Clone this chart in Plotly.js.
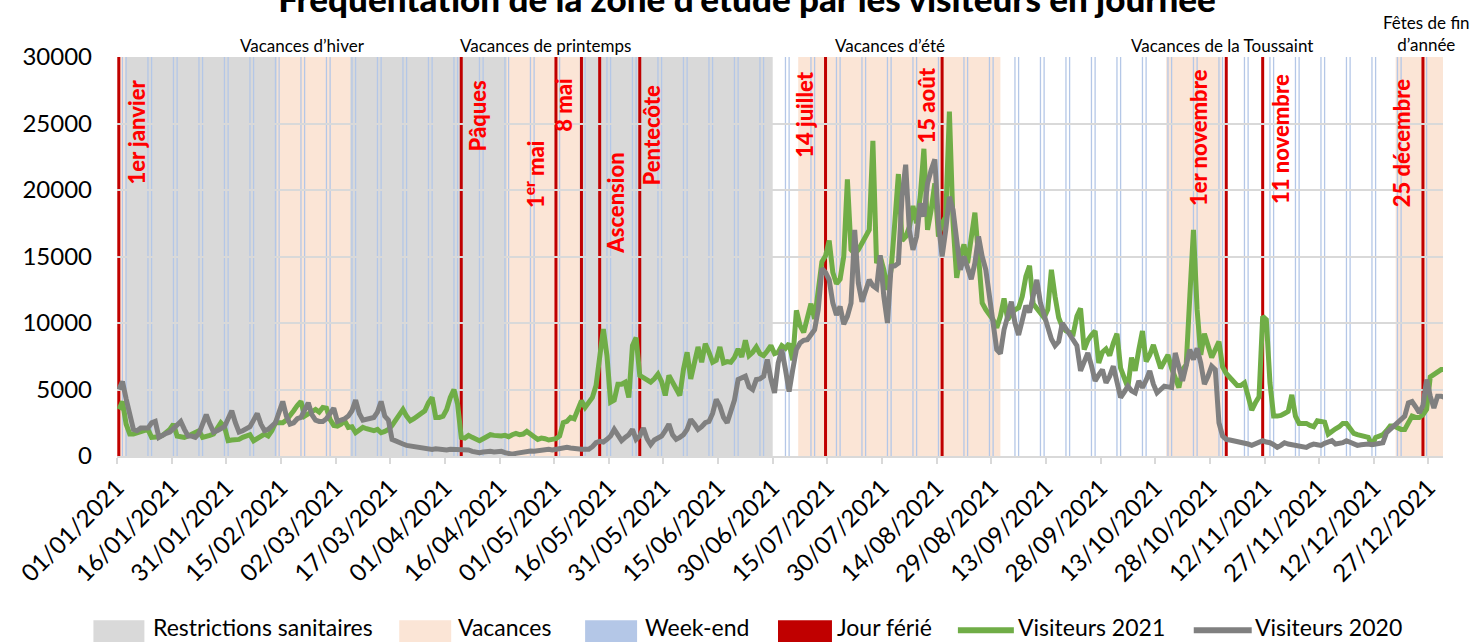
<!DOCTYPE html>
<html>
<head>
<meta charset="utf-8">
<script src="https://cdn.plot.ly/plotly-3.0.1.min.js"></script>
<style>html,body{margin:0;padding:0;background:#fff;}#chart{width:1475px;height:642px;}</style>
</head>
<body>
<div id="chart"></div>
<script>
// ---------------- DATA ----------------
const visitors2021 = [
3500,4100,2400,1650,1650,1750,1800,1900,2000,1400,
1400,1450,1550,1750,2000,2400,1500,1450,1400,1500,
1650,1750,1900,1400,1450,1550,1650,2000,2500,2200,
1150,1200,1250,1250,1400,1500,1600,1150,1300,1500,
1650,1500,1900,2500,2500,2500,2700,3000,3400,3800,
4100,3000,3200,3400,3500,3300,3650,3600,2750,2300,
2250,2400,2650,2150,2200,1750,1900,2150,2050,2000,
1900,2000,1750,1850,2000,2300,2750,3100,3500,3000,
2650,2800,3000,3100,3400,4000,4400,2900,2900,3000,
3500,4400,5000,3900,1400,1350,1550,1400,1300,1150,
1300,1400,1600,1550,1500,1500,1550,1450,1600,1700,
1600,1650,1850,1600,1450,1250,1350,1300,1200,1250,
1300,1500,2500,2600,2900,2800,3550,4150,3650,4050,
4400,5300,7500,9550,7550,4050,4200,5400,5400,5550,
4400,8300,8900,6050,5900,5700,5550,5800,6150,5600,
4550,6050,5600,5000,4550,6500,7800,5800,7000,8200,
7050,8450,7800,7050,7200,8200,7000,7100,7050,7400,
8050,7450,8700,7550,7800,8200,7700,7550,7900,8300,
7700,7800,8300,8100,8450,7200,10950,9800,9300,10500,
11450,10300,12500,14600,15050,16200,13800,12950,13300,15000,
20800,15500,15200,15500,16000,16500,17000,23700,14500,15000,
14000,12500,14000,17500,21200,16200,16500,17200,18800,17500,
19500,23100,17000,18500,20500,16500,17500,18000,25900,17500,
13400,15000,15900,14500,16500,18300,15000,11500,11000,10600,
10250,9650,10500,11850,10250,10700,11000,11150,12000,13500,
14300,11450,11100,10800,10400,11000,14000,12000,10400,9700,
9400,9300,9200,10500,11100,8000,8700,9100,9400,7000,
7800,8050,7550,8500,9200,6600,5900,5150,7400,6400,
8000,9400,7100,7600,8350,7400,6600,7100,7600,6600,
5800,5150,6500,6850,12000,17000,11000,7600,9200,8300,
7400,8000,8600,6700,6200,5900,5650,5300,5300,5500,
4500,3450,4000,4450,10500,10250,5500,3000,3000,3050,
3200,3350,4600,3000,2450,2450,2450,2300,2200,2650,
2600,2550,1650,1900,2050,2200,2450,2450,2100,1700,
1600,1500,1450,1400,800,1400,1500,1600,1900,2250,
2250,2100,2000,2000,2600,3000,2900,2900,3100,3500,
5950,6100,6350,6500,6500
];
const visitors2020 = [
5000,5600,4300,3000,2000,1900,2100,2100,2100,2500,
2600,1400,1600,1700,1800,2100,2300,2600,2000,1500,
1500,1400,1700,2300,3100,2400,1800,1900,2000,2200,
2800,3400,2500,1800,1900,2000,2200,2700,3200,2400,
1900,2000,2200,2500,3300,4100,3000,2400,2500,2800,
2900,3400,4000,3100,2700,2600,2600,2800,3200,3600,
2600,2700,2800,3000,3400,4200,3200,2700,2800,2850,
2900,3300,4100,3000,2700,1250,1100,1000,900,800,
750,750,650,600,550,500,500,550,500,500,
450,500,500,450,450,500,450,350,300,250,
300,350,350,300,370,350,250,200,130,200,
250,300,350,370,350,400,450,450,500,450,
500,550,600,650,600,550,550,500,500,500,
700,1000,1100,1050,1250,1500,2000,1600,1150,1400,
1600,2000,1250,1500,2100,1300,850,1200,1350,1500,
1900,2400,1600,1250,1400,1600,2000,2750,2400,2000,
2200,2500,2600,3200,4250,3750,2900,2500,3350,4200,
5750,5900,6000,5200,5000,5750,5800,6000,7250,5800,
4750,7000,8000,6500,4850,6500,8000,8500,8700,8750,
9200,9500,11000,14100,13800,13250,11500,10600,11250,9900,
10500,11500,17000,13000,11600,12300,13250,12800,12600,15100,
12000,10000,14250,14300,14500,19500,21900,17000,15500,16500,
19000,18000,20500,21500,22300,17500,15000,17000,19500,18500,
16000,14000,15000,14000,13300,14500,16500,15000,14000,12000,
10000,8000,7700,9500,10500,11600,10000,9100,10200,11300,
10800,12000,13250,11500,10600,9500,8800,8300,8600,10000,
9600,9200,8800,8300,6400,7000,7750,6800,5650,6100,
6500,5500,6000,6750,5500,4400,4800,5250,4900,4750,
5650,5150,5700,6400,5400,4750,5000,5250,5200,5150,
7750,6500,5650,6800,8000,7250,8100,7000,5400,6000,
6750,6500,2500,1500,1250,1200,1150,1100,1050,1000,
900,800,900,1100,1150,1050,1000,850,650,800,
1000,900,850,800,750,700,650,800,900,850,
800,950,1100,1150,900,950,1000,1150,1000,850,
800,850,900,900,850,900,950,1000,1750,2000,
2250,2400,2700,3000,4000,4100,3700,3250,3800,5750,
4500,3600,4500,4500,4400
];
// Periods [start, end]
const restrictionPeriods = [["2021-01-03","2021-06-30"]];
const vacationPeriods = [
  ["2021-01-01","2021-01-03"],
  ["2021-02-14","2021-03-06"],
  ["2021-04-18","2021-05-08"],
  ["2021-07-07","2021-08-31 12:00"],
  ["2021-10-16","2021-10-31 06:00"],
  ["2021-12-18","2021-12-31"]
];
const vacationNames = ["Vacances d’hiver","Vacances de printemps","Vacances d’été","Vacances de la Toussaint","Fêtes de fin<br>d’année"];
const holidayDates = ["2021-01-01","2021-04-05","2021-05-01","2021-05-08","2021-05-13","2021-05-24","2021-07-14","2021-08-15","2021-11-01","2021-11-11","2021-12-25"];
const holidayLabels = ["1er janvier","Pâques","1<sup>er</sup> mai","8 mai","Ascension","Pentecôte","14 juillet","15 août","1er novembre","11 novembre","25 décembre"];
const legendLabels = ["Restrictions sanitaires","Vacances","Week-end","Jour férié","Visiteurs 2021","Visiteurs 2020"];
const yTicks = [0,5000,10000,15000,20000,25000,30000];

// ---------------- LAYOUT HELPERS ----------------
const FONT = 'Lato, "Open Sans", sans-serif';
const L = 116.6, R = 1443.4, T = 56.7, B = 456.5;
const W = R - L, H = B - T;
const px = p => (p - L) / W;      // pixel x -> paper
const py = p => (B - p) / H;      // pixel y -> paper

const DAY = 86400000;
const start = Date.UTC(2021,0,1);
const iso = ms => new Date(ms).toISOString().slice(0,19).replace('T',' ');
const dates = visitors2021.map((_, i) => iso(start + i*DAY + DAY/2));
const noon = d => d + " 12:00";

// weekends of calendar 2021
const weekendDays = [];
for (let i = 0; i < 365; i++) {
  const wd = new Date(start + i*DAY).getUTCDay();
  if (wd === 0 || wd === 6) weekendDays.push(iso(start + i*DAY + DAY/2));
}

const COL = {restr:'#d9d9d9', vac:'#fbe5d6', we:'#b4c7e7', ferie:'#c00000', g21:'#70ad47', g20:'#808080'};

const shapes = [];
restrictionPeriods.forEach(p => shapes.push({type:'rect', xref:'x', yref:'paper', x0:p[0], x1:p[1], y0:0, y1:1, fillcolor:COL.restr, line:{width:0}, layer:'between'}));
vacationPeriods.forEach(p => shapes.push({type:'rect', xref:'x', yref:'paper', x0:p[0], x1:p[1], y0:0, y1:1, fillcolor:COL.vac, line:{width:0}, layer:'between'}));
weekendDays.forEach(d => shapes.push({type:'line', xref:'x', yref:'paper', x0:d, x1:d, y0:0, y1:1, line:{color:COL.we, width:1.3}, layer:'between'}));
holidayDates.forEach(d => shapes.push({type:'line', xref:'x', yref:'paper', x0:noon(d), x1:noon(d), y0:0, y1:1, line:{color:COL.ferie, width:3}, layer:'between'}));

// label placement (pixel offsets / tops) for holiday labels
const holidayLabelShift = [18, 16, -22, -18, 15, 12, -21, -16, -27, 18, -22];
const holidayLabelTop   = [77, 77, 138, 75, 150, 82, 70, 65, 67, 72, 77];
const vacationNamePos   = [[302,45],[545,45],[890,45],[1222,45],[1427,33]];

const annotations = [];
holidayDates.forEach((d, i) => annotations.push({
  xref:'x', yref:'paper', x:noon(d), y:py(holidayLabelTop[i]), xshift:holidayLabelShift[i],
  xanchor:'center', yanchor:'top', textangle:-90, showarrow:false,
  text:holidayLabels[i], font:{family:FONT, size:22, weight:900, color:'#ff0000'}
}));
vacationNames.forEach((n, i) => annotations.push({
  xref:'paper', yref:'paper', x:px(vacationNamePos[i][0]), y:py(vacationNamePos[i][1]),
  xanchor:'center', yanchor:'middle', showarrow:false, text:n,
  font:{family:FONT, size:17, color:'#000'}
}));

// manual legend
const legY = 628;
const legItems = [
  {kind:'box', color:COL.restr, x0:93, x1:144, tx:151},
  {kind:'box', color:COL.vac, x0:399, x1:451, tx:456},
  {kind:'box', color:COL.we, x0:585, x1:637, tx:643},
  {kind:'box', color:COL.ferie, x0:778, x1:832, tx:835},
  {kind:'line', color:COL.g21, x0:958, x1:1014, tx:1016},
  {kind:'line', color:COL.g20, x0:1194, x1:1252, tx:1253}
];
legItems.forEach((it, i) => {
  if (it.kind === 'box') {
    shapes.push({type:'rect', xref:'paper', yref:'paper', x0:px(it.x0), x1:px(it.x1), y0:py(621), y1:py(646), fillcolor:it.color, line:{width:0}, layer:'above'});
  } else {
    shapes.push({type:'line', xref:'paper', yref:'paper', x0:px(it.x0), x1:px(it.x1), y0:py(631), y1:py(631), line:{color:it.color, width:6}, layer:'above'});
  }
  annotations.push({xref:'paper', yref:'paper', x:px(it.tx), y:py(legY), xanchor:'left', yanchor:'middle', showarrow:false,
    text:legendLabels[i], font:{family:FONT, size:23, color:'#000'}});
});

const traces = [
  {type:'scatter', mode:'lines', name:'Visiteurs 2021', x:dates, y:visitors2021, line:{color:COL.g21, width:5}, showlegend:false, hoverinfo:'skip'},
  {type:'scatter', mode:'lines', name:'Visiteurs 2020', x:dates, y:visitors2020, line:{color:COL.g20, width:5}, showlegend:false, hoverinfo:'skip'}
];

const layout = {
  width:1475, height:642,
  margin:{l:L, r:1475-R, t:T, b:642-B, autoexpand:false},
  paper_bgcolor:'#fff', plot_bgcolor:'#fff',
  font:{family:FONT, color:'#000'},
  showlegend:false,
  title:{text:'Fréquentation de la zone d’étude par les visiteurs en journée', font:{family:FONT, size:35, weight:900, color:'#000'},
    xref:'container', x:747/1475, xanchor:'center', yref:'container', y:1, yanchor:'middle'},
  xaxis:{type:'date', range:['2021-01-01','2021-12-31'], tick0:'2021-01-01', dtick:15*DAY, tickformat:'%d/%m/%Y',
    tickangle:-45, tickfont:{family:FONT, size:24, color:'#000'}, showgrid:false, zeroline:false,
    showline:true, linecolor:'#d9d9d9', linewidth:2, ticks:'outside', ticklen:6, tickwidth:2, tickcolor:'#d9d9d9'},
  yaxis:{range:[0,30000], tickvals:yTicks, ticktext:yTicks.map(String), showgrid:true, gridcolor:'#d9d9d9', gridwidth:2,
    zeroline:false, showline:false, ticks:'', tickfont:{family:FONT, size:24, color:'#000'}, ticklabelstandoff:24},
  shapes:shapes,
  annotations:annotations
};

Plotly.newPlot('chart', traces, layout, {displayModeBar:false, staticPlot:true});
</script>
</body>
</html>
